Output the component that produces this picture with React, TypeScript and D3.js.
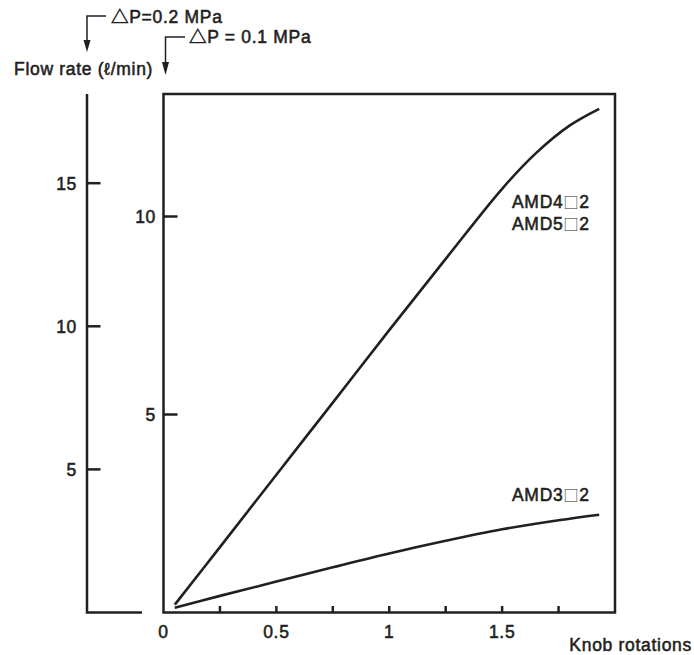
import React from "react";
import * as d3 from "d3";

// Knob rotations (x) and flow rates at ΔP = 0.1 MPa (inner axis)
const rotations45 = [0.05, 0.25, 0.5, 0.75, 1.0, 1.25, 1.5, 1.65, 1.8, 1.93];
const flowAMD45 = [0.2, 1.65, 3.48, 5.3, 7.13, 8.93, 10.7, 11.6, 12.3, 12.72];
const rotations3 = [0.05, 0.25, 0.5, 0.75, 1.0, 1.25, 1.5, 1.75, 1.93];
const flowAMD3 = [0.12, 0.42, 0.78, 1.14, 1.49, 1.81, 2.1, 2.33, 2.47];

const xTicks = [0.25, 0.5, 0.75, 1, 1.25, 1.5, 1.75];
const xTickLabels = ["0", "0.5", "1", "1.5"];
const xLabelValues = [0, 0.5, 1, 1.5];
const innerTicks = [5, 10];
const outerTicks = [5, 10, 15];

const seriesLabels45 = ["AMD4", "AMD5"];
const seriesLabel3 = "AMD3";
const boxGlyph = "□";
const labelSuffix = "2";
const yTitle = "Flow rate (ℓ/min)";
const xTitle = "Knob rotations";
const dp02 = "△P=0.2 MPa";
const dp01 = "△P = 0.1 MPa";

const INK = "#231f20";
const FONT = "'Liberation Sans', Arial, Helvetica, 'Noto Sans CJK JP', sans-serif";
const CJK = "'Noto Sans CJK JP', 'Noto Sans CJK SC', sans-serif";

export default function App() {
  const left = 163.5, right = 615, top = 94, bottom = 612.5;
  const x = d3.scaleLinear().domain([0, 2]).range([left, right]);
  const yIn = d3.scaleLinear().domain([0, 5]).range([bottom, 414.5]);
  const outerX = 87;
  const yOut = d3.scaleLinear().domain([0, 10]).range([bottom, 326.3]);

  const line = d3
    .line<[number, number]>()
    .x((d) => x(d[0]))
    .y((d) => yIn(d[1]))
    .curve(d3.curveCatmullRom.alpha(0.5));

  const d45 = line(rotations45.map((r, i) => [r, flowAMD45[i]] as [number, number])) || "";
  const d3p = line(rotations3.map((r, i) => [r, flowAMD3[i]] as [number, number])) || "";

  const textStyle: React.CSSProperties = {
    fontFamily: FONT,
    fontSize: 17.5,
    fill: INK,
    stroke: INK,
    strokeWidth: 0.55,
    letterSpacing: 0.7,
  };
  const annStyle: React.CSSProperties = { ...textStyle, fontSize: 17.5, letterSpacing: 0.7 };

  const seriesLabel = (name: string, xPos: number, yPos: number) => (
    <text key={name} x={xPos} y={yPos} style={textStyle}>
      {name}
      <tspan style={{ fontFamily: CJK, fontSize: 15, stroke: "none", fontWeight: 300, fill: INK }}>
        {boxGlyph}
      </tspan>
      {labelSuffix}
    </text>
  );

  return (
    <svg
      width={694}
      height={655}
      style={{ position: "absolute", left: 0, top: 0, display: "block", background: "#fff" }}
    >
      {/* Annotations */}
      <path d={`M106,16 H${outerX} V44`} fill="none" stroke={INK} strokeWidth={1.5} />
      <path d={`M${outerX - 3.5},40 L${outerX + 3.5},40 L${outerX},52 Z`} fill={INK} />
      <text x={111} y={23} style={annStyle}>{dp02}</text>

      <path d={`M185,37 H${left + 2} V66`} fill="none" stroke={INK} strokeWidth={1.5} />
      <path d={`M${left + 2 - 3.5},62 L${left + 2 + 3.5},62 L${left + 2},75 Z`} fill={INK} />
      <text x={189} y={43} style={annStyle}>{dp01}</text>

      <text x={14} y={75} style={textStyle}>{yTitle}</text>

      {/* Outer axis (ΔP = 0.2 MPa) */}
      <path d={`M${outerX},${top} V${bottom} H142`} fill="none" stroke={INK} strokeWidth={2.5} />
      {outerTicks.map((t) => (
        <g key={"o" + t}>
          <line x1={outerX} x2={outerX + 13.5} y1={yOut(t)} y2={yOut(t)} stroke={INK} strokeWidth={2.5} />
          <text x={outerX - 10} y={yOut(t)} dy="0.36em" textAnchor="end" style={textStyle}>
            {t}
          </text>
        </g>
      ))}

      {/* Main box */}
      <rect x={left} y={top} width={right - left} height={bottom - top} fill="none" stroke={INK} strokeWidth={2.5} />
      {innerTicks.map((t) => (
        <g key={"i" + t}>
          <line x1={left} x2={left + 14} y1={yIn(t)} y2={yIn(t)} stroke={INK} strokeWidth={2.5} />
          <text x={left - 7.5} y={yIn(t)} dy="0.36em" textAnchor="end" style={textStyle}>
            {t}
          </text>
        </g>
      ))}
      {xTicks.map((t) => (
        <line key={"x" + t} x1={x(t)} x2={x(t)} y1={bottom} y2={bottom - 6.5} stroke={INK} strokeWidth={2.5} />
      ))}
      {xLabelValues.map((v, i) => (
        <text key={"xl" + v} x={x(v)} y={638} textAnchor="middle" style={textStyle}>
          {xTickLabels[i]}
        </text>
      ))}
      <text x={692} y={651} textAnchor="end" style={textStyle}>{xTitle}</text>

      {/* Curves */}
      <path d={d45} fill="none" stroke={INK} strokeWidth={2.6} />
      <path d={d3p} fill="none" stroke={INK} strokeWidth={2.6} />

      {/* Series labels */}
      {seriesLabels45.map((s, i) => seriesLabel(s, 512, 208 + i * 22.3))}
      {seriesLabel(seriesLabel3, 512, 501)}
    </svg>
  );
}
